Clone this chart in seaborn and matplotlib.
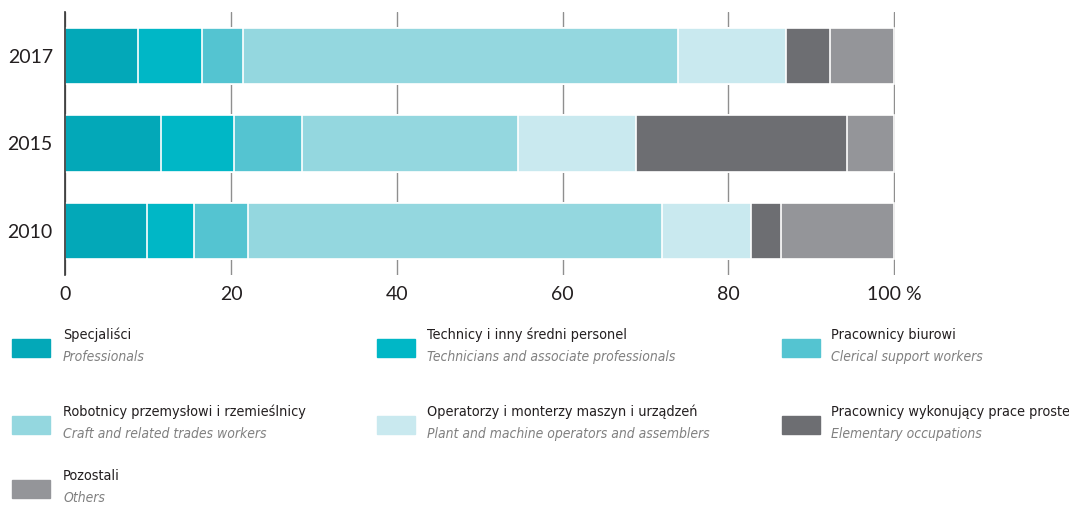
import matplotlib
matplotlib.use("Agg")
import matplotlib.pyplot as plt
from matplotlib.patches import Rectangle
import seaborn as sns
import pandas as pd

# data (share of employed, %)
years = ['2017', '2015', '2010']
professionals = [8.8, 11.5, 9.8]
technicians = [7.7, 8.8, 5.7]
clerical = [4.9, 8.3, 6.5]
craft = [52.5, 26.0, 50.0]
operators = [13.1, 14.3, 10.7]
elementary = [5.2, 25.4, 3.6]
others = [7.8, 5.7, 13.7]

labels_pl = ['Specjaliści', 'Technicy i inny średni personel', 'Pracownicy biurowi',
             'Robotnicy przemysłowi i rzemieślnicy', 'Operatorzy i monterzy maszyn i urządzeń',
             'Pracownicy wykonujący prace proste', 'Pozostali']
labels_en = ['Professionals', 'Technicians and associate professionals', 'Clerical support workers',
             'Craft and related trades workers', 'Plant and machine operators and assemblers',
             'Elementary occupations', 'Others']
x_ticks = [0, 20, 40, 60, 80, 100]
x_tick_labels = ['0', '20', '40', '60', '80', '100 %']

colors = ['#03a8b8', '#00b7c6', '#54c4d1', '#94d7df', '#c9e9ef', '#6d6e72', '#949599']

sns.set_style('white')
plt.rcParams['font.family'] = ['Lato', 'DejaVu Sans']

W, H = 1069, 505
fig = plt.figure(figsize=(W / 100, H / 100), dpi=100)
ax = fig.add_axes([65.3 / W, 1 - 275 / H, (895 - 65.3) / W, 263 / H])

cols = ['professionals', 'technicians', 'clerical', 'craft', 'operators', 'elementary', 'others']
df = pd.DataFrame({'year': years, 'professionals': professionals, 'technicians': technicians,
                   'clerical': clerical, 'craft': craft, 'operators': operators,
                   'elementary': elementary, 'others': others})
cum = df[cols].cumsum(axis=1)

# stacked bars: draw cumulative totals from the right, each one over the last
for col, color in reversed(list(zip(cols, colors))):
    sns.barplot(x=cum[col], y=df['year'], order=years, orient='h', color=color,
                saturation=1, width=0.64, edgecolor='white', linewidth=1.2, ax=ax)

ax.set_xlim(0, 100.1)
ax.set_ylim(2.5, -0.5)
ax.set_xlabel('')
ax.set_ylabel('')
ax.set_axisbelow(True)
ax.xaxis.grid(True, color='#8f8f8f', lw=1)
ax.yaxis.grid(False)
sns.despine(ax=ax, top=True, right=True, bottom=True, left=False)
ax.spines['left'].set_color('#333333')
ax.spines['left'].set_linewidth(1.2)
ax.set_xticks(x_ticks)
ax.set_xticklabels(x_tick_labels)
ax.tick_params(axis='x', length=0, pad=8, labelsize=14, labelcolor='#231f20')
ax.tick_params(axis='y', length=0, pad=9, labelsize=14, labelcolor='#231f20')

# legend drawn by hand, three columns
row_tops = [339, 416, 480]
sw_x = [12, 377, 782]
txt_x = [63, 427, 831]
for i, (pl, en) in enumerate(zip(labels_pl, labels_en)):
    r, c = i // 3, i % 3
    top = row_tops[r]
    fig.patches.append(Rectangle((sw_x[c] / W, 1 - (top + 18) / H), 38 / W, 18 / H,
                                 transform=fig.transFigure, color=colors[i]))
    fig.text(txt_x[c] / W, 1 - (top - 4) / H, pl, va='center', ha='left',
             fontsize=10.4, color='#231f20', family='DejaVu Sans', fontstretch='condensed')
    fig.text(txt_x[c] / W, 1 - (top + 18) / H, en, va='center', ha='left',
             fontsize=10, color='#808080', style='italic', family='DejaVu Sans',
             fontstretch='condensed')

fig.savefig('out.png', dpi=100)
